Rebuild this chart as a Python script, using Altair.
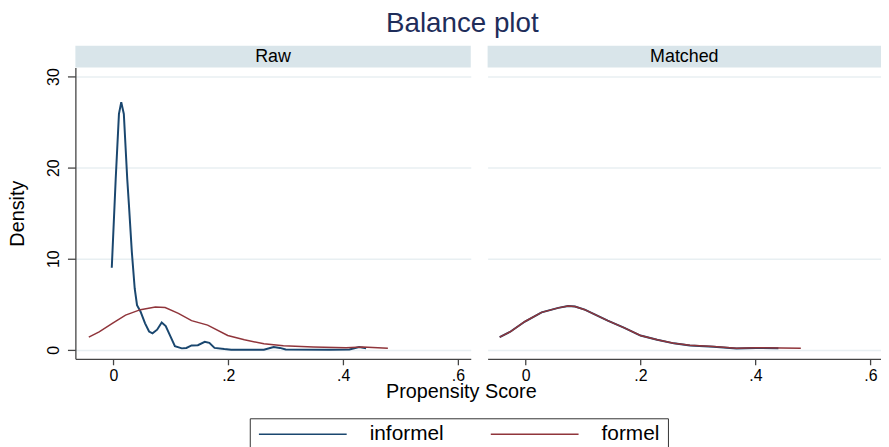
import altair as alt
import pandas as pd

panels = ["Raw", "Matched"]
groups = ["informel", "formel"]
colors = ["#1a476f", "#90353b"]

raw_informel_x = [-0.003, 0.0038, 0.0095, 0.0135, 0.018, 0.024, 0.027, 0.032, 0.037, 0.041, 0.047,
                  0.055, 0.062, 0.068, 0.076, 0.084, 0.091, 0.099, 0.107, 0.119, 0.127, 0.136,
                  0.147, 0.159, 0.167, 0.176, 0.193, 0.205, 0.262, 0.279, 0.29, 0.30, 0.376,
                  0.411, 0.428, 0.44]
raw_informel_y = [9.0, 18.7, 25.9, 27.2, 25.9, 18.7, 15.8, 10.7, 6.7, 4.9, 4.2,
                  2.9, 2.0, 1.8, 2.2, 3.0, 2.6, 1.5, 0.4, 0.15, 0.2, 0.47,
                  0.5, 0.87, 0.76, 0.2, 0.07, 0.0, 0.0, 0.3, 0.2, 0.03, 0.0,
                  0.03, 0.3, 0.15]

raw_formel_x = [-0.043, -0.025, -0.002, 0.021, 0.047, 0.073, 0.09, 0.113, 0.136, 0.164, 0.199,
                0.228, 0.262, 0.296, 0.348, 0.405, 0.434, 0.478]
raw_formel_y = [1.38, 1.96, 2.9, 3.8, 4.4, 4.7, 4.64, 4.0, 3.2, 2.7, 1.56,
                1.1, 0.65, 0.43, 0.3, 0.22, 0.3, 0.15]

matched_informel_x = [-0.045, -0.026, -0.001, 0.028, 0.057, 0.074, 0.086, 0.103, 0.143, 0.172,
                      0.2, 0.229, 0.258, 0.286, 0.327, 0.367, 0.401, 0.44]
matched_informel_y = [1.38, 2.0, 3.1, 4.1, 4.6, 4.8, 4.75, 4.4, 3.2, 2.4,
                      1.56, 1.1, 0.7, 0.47, 0.33, 0.13, 0.2, 0.15]

matched_formel_x = [-0.045, -0.026, -0.001, 0.028, 0.057, 0.074, 0.086, 0.103, 0.143, 0.172,
                    0.2, 0.229, 0.258, 0.286, 0.327, 0.367, 0.401, 0.479]
matched_formel_y = [1.38, 2.0, 3.1, 4.1, 4.6, 4.8, 4.75, 4.4, 3.2, 2.4,
                    1.56, 1.1, 0.72, 0.5, 0.36, 0.15, 0.22, 0.15]

x_ticks = [0, 0.2, 0.4, 0.6]
y_ticks = [0, 10, 20, 30]

FONT = "Liberation Sans"
W, H = 399, 294
W2 = 397
STRIP = 22


def frame(panel, group, xs, ys):
    return pd.DataFrame({"panel": panel, "group": group, "ps": xs, "density": ys,
                         "order": list(range(len(xs)))})


data = {
    "Raw": (frame("Raw", "informel", raw_informel_x, raw_informel_y),
            frame("Raw", "formel", raw_formel_x, raw_formel_y)),
    "Matched": (frame("Matched", "informel", matched_informel_x, matched_informel_y),
                frame("Matched", "formel", matched_formel_x, matched_formel_y)),
}

yscale = alt.Scale(domain=[-1, 31], nice=False, zero=False)
cscale = alt.Scale(domain=groups, range=colors)
LABEL_EXPR = "datum.value == 0 ? '0' : '.' + format(datum.value * 10, 'd')"


def make_panel(name, first):
    if first:
        width = W
        xscale = alt.Scale(domain=[-0.0664, 0.6224], nice=False, zero=False)
        xaxis = alt.Axis(values=x_ticks, grid=False, labelExpr=LABEL_EXPR,
                         title="Propensity Score", titleX=389, titleY=39, titleAlign="center",
                         titleBaseline="alphabetic", titleFontSize=20, titleFontWeight="normal",
                         titleFont=FONT, titleColor="#000")
        yaxis = alt.Axis(values=y_ticks, grid=True, title="Density", labelAngle=270,
                         labelAlign="center", labelBaseline="bottom", titleFontSize=20,
                         titleFontWeight="normal", titleFont=FONT, titleColor="#000",
                         titleX=-58, titleBaseline="middle")
        legend = alt.Legend(title=None, orient="none", legendX=176, legendY=354,
                            direction="horizontal", symbolType="stroke", symbolSize=7845,
                            symbolStrokeWidth=1.5, labelFontSize=21, labelFont=FONT,
                            labelColor="#000", labelOffset=22, columnPadding=46, padding=8,
                            strokeColor="#333", clipHeight=16)
    else:
        width = W2
        xscale = alt.Scale(domain=[-0.066, 0.6185], nice=False, zero=False)
        xaxis = alt.Axis(values=x_ticks, grid=False, labelExpr=LABEL_EXPR, title=None)
        yaxis = alt.Axis(values=y_ticks, grid=True, title=None, labels=False, ticks=False,
                         domain=False)
        legend = None

    strip = alt.Chart(pd.DataFrame({"label": [name]})).mark_rect(color="#d9e5ea").encode(
        x=alt.value(0), x2=alt.value(width), y=alt.value(-STRIP), y2=alt.value(0))
    strip_text = alt.Chart(pd.DataFrame({"label": [name]})).mark_text(
        fontSize=18, font=FONT, color="#000", baseline="middle").encode(
        x=alt.value(width / 2), y=alt.value(-STRIP / 2), text="label:N")

    inf_df, for_df = data[name]
    enc = dict(
        x=alt.X("ps:Q", scale=xscale, axis=xaxis),
        y=alt.Y("density:Q", scale=yscale, axis=yaxis),
        order="order:Q",
    )
    if legend is not None:
        color = alt.Color("group:N", scale=cscale, legend=legend)
    else:
        color = alt.Color("group:N", scale=cscale)
    blue = alt.Chart(inf_df).mark_line(strokeWidth=2).encode(color=color, **enc)
    red = alt.Chart(for_df).mark_line(strokeWidth=1.5).encode(color=color, **enc)
    return alt.layer(strip, strip_text, blue, red).properties(width=width, height=H)


chart = alt.hconcat(make_panel("Raw", True), make_panel("Matched", False), spacing=17,
                    bounds="flush").properties(
    title=alt.TitleParams("Balance plot", fontSize=28, font=FONT, fontWeight="normal",
                          color="#1e2d5a", anchor="middle", dx=18, offset=8),
    padding=0,
    background="white",
).configure_view(stroke=None).configure_axis(
    domainColor="#444", tickColor="#444", domainWidth=1.3, tickWidth=1.3,
    labelFont=FONT, labelFontSize=16, labelColor="#000",
    gridColor="#e8eff2", gridWidth=1.5,
).configure_axisX(tickSize=6, labelPadding=3).configure_axisY(tickSize=8, labelPadding=6)

chart.save("out.html", embed_options={"renderer": "svg", "actions": False})
